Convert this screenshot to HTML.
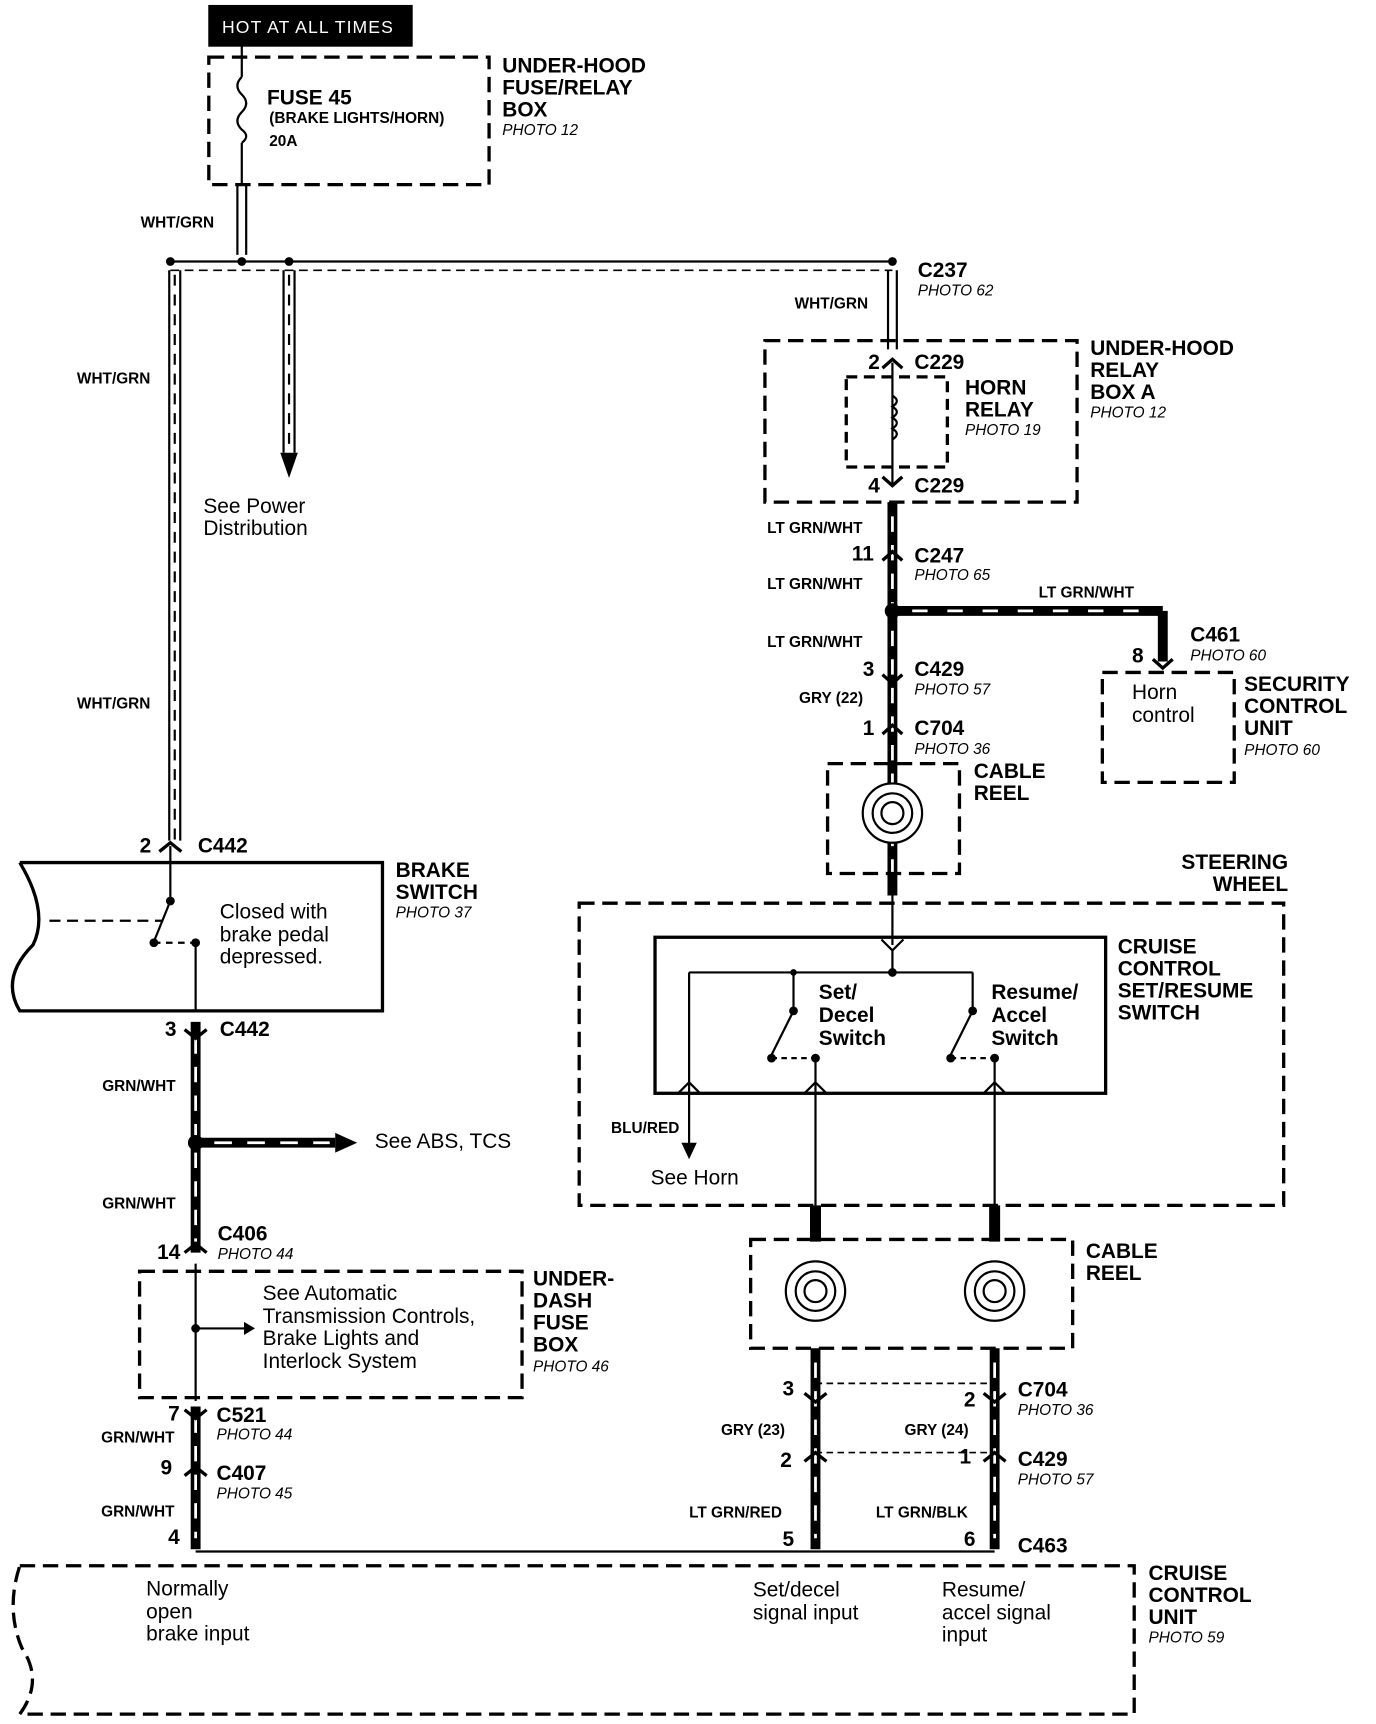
<!DOCTYPE html>
<html><head><meta charset="utf-8"><style>
html,body{margin:0;padding:0;background:#fff}
svg{display:block}
text{font-family:"Liberation Sans",Arial,sans-serif;fill:#000}
.b{font-weight:bold;font-size:19px}
.s{font-weight:bold;font-size:14px}
.i{font-style:italic;font-size:14px}
.n{font-size:19px}
</style></head><body>
<svg width="1376" height="1724" viewBox="0 0 1252 1569" preserveAspectRatio="none" xmlns="http://www.w3.org/2000/svg">
<g fill="none" stroke="#000">
<rect x="190" y="5" width="185" height="37" fill="#000"/>
<rect x="190" y="52" width="255" height="116" stroke-width="3" stroke-dasharray="14,7"/>
<line x1="220" y1="42" x2="220" y2="70" stroke-width="2"/>
<path d="M220 70 q-8 8 0 16 q8 8 0 16 q-8 8 0 16 q8 6 0 12" stroke-width="2"/>
<line x1="220" y1="130" x2="220" y2="168" stroke-width="2"/>
<line x1="216" y1="168" x2="216" y2="232" stroke-width="2"/>
<line x1="224" y1="168" x2="224" y2="232" stroke-width="2"/>
<line x1="155" y1="238" x2="812" y2="238" stroke-width="2"/>
<line x1="155" y1="246" x2="812" y2="246" stroke-width="1.5" stroke-dasharray="8,5"/>
<line x1="154" y1="246" x2="154" y2="765" stroke-width="2"/>
<line x1="164" y1="246" x2="164" y2="765" stroke-width="2"/>
<path d="M159 250 l0 515" stroke-width="2" stroke-dasharray="10,8"/>
<line x1="258" y1="246" x2="258" y2="412" stroke-width="2"/>
<line x1="268" y1="246" x2="268" y2="412" stroke-width="2"/>
<path d="M263 250 l0 160" stroke-width="2" stroke-dasharray="10,8"/>
<line x1="808" y1="246" x2="808" y2="318" stroke-width="2"/>
<line x1="816" y1="246" x2="816" y2="318" stroke-width="2"/>
<rect x="696" y="310" width="284" height="147" stroke-width="3" stroke-dasharray="14,7"/>
<rect x="770" y="343" width="92" height="82" stroke-width="3" stroke-dasharray="10,6"/>
<line x1="812" y1="330" x2="812" y2="440" stroke-width="2"/>
<path d="M812 360 q8 5 0 10 q8 5 0 10 q8 5 0 10 q8 5 0 10" stroke-width="2"/>
<line x1="812" y1="457" x2="812" y2="815" stroke-width="9"/>
<line x1="812" y1="556" x2="1058" y2="556" stroke-width="9"/>
<line x1="1058" y1="556" x2="1058" y2="602" stroke-width="9"/>
<g stroke="#fff" stroke-width="2.5"><line x1="812" y1="470" x2="812" y2="800" stroke-dasharray="14,12"/><line x1="830" y1="556" x2="1040" y2="556" stroke-dasharray="14,18"/></g>
<rect x="1003" y="612" width="120" height="100" stroke-width="3" stroke-dasharray="14,7"/>
<rect x="753" y="695" width="120" height="100" stroke-width="3" stroke-dasharray="14,7"/>
<circle cx="812" cy="740" r="27" fill="#fff" stroke-width="2"/><circle cx="812" cy="740" r="18" stroke-width="2"/><circle cx="812" cy="740" r="10" stroke-width="2"/>
<line x1="812" y1="815" x2="812" y2="860" stroke-width="2"/>
<rect x="527" y="822" width="641" height="275" stroke-width="3" stroke-dasharray="14,7"/>
<rect x="596" y="853" width="410" height="142" stroke-width="3"/>
<line x1="812" y1="865" x2="812" y2="885" stroke-width="2"/>
<line x1="627" y1="885" x2="885" y2="885" stroke-width="2"/>
<line x1="627" y1="885" x2="627" y2="1045" stroke-width="2"/>
<line x1="722" y1="885" x2="722" y2="920" stroke-width="2"/>
<line x1="722" y1="920" x2="702" y2="960" stroke-width="2"/>
<line x1="702" y1="963" x2="742" y2="963" stroke-width="2" stroke-dasharray="5,4"/>
<line x1="885" y1="885" x2="885" y2="920" stroke-width="2"/>
<line x1="885" y1="920" x2="865" y2="960" stroke-width="2"/>
<line x1="865" y1="963" x2="905" y2="963" stroke-width="2" stroke-dasharray="5,4"/>
<line x1="742" y1="963" x2="742" y2="1097" stroke-width="2"/>
<line x1="905" y1="963" x2="905" y2="1097" stroke-width="2"/>
<path d="M617 995 l10 -10 l10 10 M732 995 l10 -10 l10 10 M895 995 l10 -10 l10 10 M802 855 l10 10 l10 -10" stroke-width="2"/>
<line x1="742" y1="1097" x2="742" y2="1130" stroke-width="10"/>
<line x1="905" y1="1097" x2="905" y2="1130" stroke-width="10"/>
<rect x="683" y="1128" width="293" height="99" stroke-width="3" stroke-dasharray="14,7"/>
<g stroke-width="2"><circle cx="742" cy="1175" r="27"/><circle cx="742" cy="1175" r="18"/><circle cx="742" cy="1175" r="10"/><circle cx="905" cy="1175" r="27"/><circle cx="905" cy="1175" r="18"/><circle cx="905" cy="1175" r="10"/></g>
<line x1="742" y1="1227" x2="742" y2="1410" stroke-width="9"/>
<line x1="905" y1="1227" x2="905" y2="1410" stroke-width="9"/>
<g stroke="#fff" stroke-width="2.5"><line x1="742" y1="1240" x2="742" y2="1400" stroke-dasharray="14,12"/><line x1="905" y1="1240" x2="905" y2="1400" stroke-dasharray="14,12"/></g>
<line x1="742" y1="1259" x2="905" y2="1259" stroke-width="1.5" stroke-dasharray="6,4"/>
<line x1="742" y1="1322" x2="905" y2="1322" stroke-width="1.5" stroke-dasharray="6,4"/>
<path d="M18 785 L348 785 L348 920 L18 920 Q0 890 30 860 Q45 830 18 785" stroke-width="3"/>
<line x1="155" y1="770" x2="155" y2="820" stroke-width="2"/>
<line x1="155" y1="820" x2="140" y2="857" stroke-width="2"/>
<line x1="45" y1="838" x2="148" y2="838" stroke-width="2" stroke-dasharray="10,6"/>
<line x1="140" y1="858" x2="178" y2="858" stroke-width="2" stroke-dasharray="6,5"/>
<line x1="178" y1="858" x2="178" y2="920" stroke-width="2"/>
<line x1="178" y1="930" x2="178" y2="1140" stroke-width="9"/>
<line x1="178" y1="1040" x2="305" y2="1040" stroke-width="9"/>
<line x1="178" y1="1280" x2="178" y2="1410" stroke-width="9"/>
<g stroke="#fff" stroke-width="2.5"><line x1="178" y1="945" x2="178" y2="1130" stroke-dasharray="14,12"/><line x1="195" y1="1040" x2="300" y2="1040" stroke-dasharray="16,14"/><line x1="178" y1="1290" x2="178" y2="1400" stroke-dasharray="14,12"/></g>
<rect x="127" y="1157" width="348" height="115" stroke-width="3" stroke-dasharray="14,7"/>
<line x1="178" y1="1150" x2="178" y2="1275" stroke-width="2"/>
<line x1="178" y1="1209" x2="222" y2="1209" stroke-width="2"/>
<line x1="178" y1="1412" x2="905" y2="1412" stroke-width="2"/>
<path d="M18 1425 L1032 1425 L1032 1560 L18 1560 Q40 1530 20 1500 Q5 1465 18 1425" stroke-width="3" stroke-dasharray="14,7"/>
</g>
<g fill="#000">
<circle cx="812" cy="556" r="7"/><circle cx="178" cy="1040" r="7"/><circle cx="812" cy="885" r="4"/><circle cx="178" cy="1209" r="4"/>
<circle cx="155" cy="238" r="4"/><circle cx="220" cy="238" r="4"/><circle cx="263" cy="238" r="4"/><circle cx="812" cy="238" r="4"/>
<circle cx="155" cy="820" r="4"/><circle cx="140" cy="858" r="4"/><circle cx="178" cy="858" r="4"/>
<circle cx="722" cy="885" r="3"/><circle cx="702" cy="963" r="4"/><circle cx="742" cy="963" r="4"/><circle cx="885" cy="920" r="4"/><circle cx="865" cy="963" r="4"/><circle cx="905" cy="963" r="4"/><circle cx="722" cy="920" r="4"/>
<path d="M255 412 L271 412 L263 435 Z"/><path d="M305 1031 L325 1040 L305 1049 Z"/><path d="M222 1203 L232 1209 L222 1215 Z"/><path d="M620 1040 L634 1040 L627 1055 Z"/>
</g>
<g fill="none" stroke="#000" stroke-width="3">
<path d="M145 775 l10 -8 l10 8 M803 335 l9 -8 l9 8 M803 434 l9 8 l9 -8 M803 510 l9 -8 l9 8 M803 614 l9 8 l9 -8 M803 668 l9 -8 l9 8 M168 937 l10 8 l10 -8 M168 1140 l10 -8 l10 8 M168 1283 l10 8 l10 -8 M168 1343 l10 -8 l10 8 M732 1268 l10 8 l10 -8 M895 1268 l10 8 l10 -8 M732 1330 l10 -8 l10 8 M895 1330 l10 -8 l10 8 M1049 600 l9 8 l9 -8"/>
</g>
<text x="202" y="30" font-size="16" style="fill:#fff;letter-spacing:1px">HOT AT ALL TIMES</text>
<text x="243" y="95" class="b">FUSE 45</text>
<text x="245" y="112" class="s">(BRAKE LIGHTS/HORN)</text>
<text x="245" y="133" class="s">20A</text>
<text x="457" y="66" class="b">UNDER-HOOD</text><text x="457" y="86" class="b">FUSE/RELAY</text><text x="457" y="106" class="b">BOX</text><text x="457" y="123" class="i">PHOTO 12</text>
<text x="128" y="207" class="s">WHT/GRN</text>
<text x="70" y="349" class="s">WHT/GRN</text><text x="70" y="645" class="s">WHT/GRN</text>
<text x="185" y="467" class="n">See Power</text><text x="185" y="487" class="n">Distribution</text>
<text x="835" y="252" class="b">C237</text><text x="835" y="269" class="i">PHOTO 62</text>
<text x="723" y="281" class="s">WHT/GRN</text>
<text x="790" y="336" class="b">2</text><text x="832" y="336" class="b">C229</text>
<text x="790" y="448" class="b">4</text><text x="832" y="448" class="b">C229</text>
<text x="878" y="359" class="b">HORN</text><text x="878" y="379" class="b">RELAY</text><text x="878" y="396" class="i">PHOTO 19</text>
<text x="992" y="323" class="b">UNDER-HOOD</text><text x="992" y="343" class="b">RELAY</text><text x="992" y="363" class="b">BOX A</text><text x="992" y="380" class="i">PHOTO 12</text>
<text x="698" y="485" class="s">LT GRN/WHT</text>
<text x="775" y="510" class="b">11</text><text x="832" y="512" class="b">C247</text><text x="832" y="528" class="i">PHOTO 65</text>
<text x="698" y="536" class="s">LT GRN/WHT</text>
<text x="945" y="544" class="s">LT GRN/WHT</text>
<text x="1083" y="584" class="b">C461</text><text x="1083" y="601" class="i">PHOTO 60</text><text x="1030" y="603" class="b">8</text>
<text x="1030" y="636" class="n">Horn</text><text x="1030" y="657" class="n">control</text>
<text x="1132" y="629" class="b">SECURITY</text><text x="1132" y="649" class="b">CONTROL</text><text x="1132" y="669" class="b">UNIT</text><text x="1132" y="687" class="i">PHOTO 60</text>
<text x="698" y="589" class="s">LT GRN/WHT</text>
<text x="785" y="615" class="b">3</text><text x="832" y="615" class="b">C429</text><text x="832" y="632" class="i">PHOTO 57</text>
<text x="727" y="640" class="s">GRY (22)</text>
<text x="785" y="669" class="b">1</text><text x="832" y="669" class="b">C704</text><text x="832" y="686" class="i">PHOTO 36</text>
<text x="886" y="708" class="b">CABLE</text><text x="886" y="728" class="b">REEL</text>
<text x="1172" y="791" class="b" text-anchor="end">STEERING</text><text x="1172" y="811" class="b" text-anchor="end">WHEEL</text>
<text x="745" y="909" class="b">Set/</text><text x="745" y="930" class="b">Decel</text><text x="745" y="951" class="b">Switch</text>
<text x="902" y="909" class="b">Resume/</text><text x="902" y="930" class="b">Accel</text><text x="902" y="951" class="b">Switch</text>
<text x="1017" y="868" class="b">CRUISE</text><text x="1017" y="888" class="b">CONTROL</text><text x="1017" y="908" class="b">SET/RESUME</text><text x="1017" y="928" class="b">SWITCH</text>
<text x="556" y="1031" class="s">BLU/RED</text>
<text x="592" y="1078" class="n">See Horn</text>
<text x="988" y="1145" class="b">CABLE</text><text x="988" y="1165" class="b">REEL</text>
<text x="712" y="1270" class="b">3</text><text x="877" y="1280" class="b">2</text>
<text x="926" y="1271" class="b">C704</text><text x="926" y="1288" class="i">PHOTO 36</text>
<text x="656" y="1306" class="s">GRY (23)</text><text x="823" y="1306" class="s">GRY (24)</text>
<text x="710" y="1335" class="b">2</text><text x="873" y="1332" class="b">1</text>
<text x="926" y="1334" class="b">C429</text><text x="926" y="1351" class="i">PHOTO 57</text>
<text x="627" y="1381" class="s">LT GRN/RED</text><text x="797" y="1381" class="s">LT GRN/BLK</text>
<text x="712" y="1407" class="b">5</text><text x="877" y="1407" class="b">6</text><text x="926" y="1413" class="b">C463</text>
<text x="127" y="776" class="b">2</text><text x="180" y="776" class="b">C442</text>
<text x="360" y="798" class="b">BRAKE</text><text x="360" y="818" class="b">SWITCH</text><text x="360" y="835" class="i">PHOTO 37</text>
<text x="200" y="836" class="n">Closed with</text><text x="200" y="857" class="n">brake pedal</text><text x="200" y="877" class="n">depressed.</text>
<text x="150" y="943" class="b">3</text><text x="200" y="943" class="b">C442</text>
<text x="93" y="993" class="s">GRN/WHT</text>
<text x="341" y="1045" class="n">See ABS, TCS</text>
<text x="93" y="1100" class="s">GRN/WHT</text>
<text x="198" y="1129" class="b">C406</text><text x="198" y="1146" class="i">PHOTO 44</text><text x="143" y="1146" class="b">14</text>
<text x="239" y="1183" class="n">See Automatic</text><text x="239" y="1204" class="n">Transmission Controls,</text><text x="239" y="1224" class="n">Brake Lights and</text><text x="239" y="1245" class="n">Interlock System</text>
<text x="485" y="1170" class="b">UNDER-</text><text x="485" y="1190" class="b">DASH</text><text x="485" y="1210" class="b">FUSE</text><text x="485" y="1230" class="b">BOX</text><text x="485" y="1248" class="i">PHOTO 46</text>
<text x="153" y="1293" class="b">7</text><text x="197" y="1294" class="b">C521</text><text x="197" y="1310" class="i">PHOTO 44</text>
<text x="92" y="1313" class="s">GRN/WHT</text>
<text x="146" y="1342" class="b">9</text><text x="197" y="1347" class="b">C407</text><text x="197" y="1364" class="i">PHOTO 45</text>
<text x="92" y="1380" class="s">GRN/WHT</text>
<text x="153" y="1405" class="b">4</text>
<text x="133" y="1452" class="n">Normally</text><text x="133" y="1473" class="n">open</text><text x="133" y="1493" class="n">brake input</text>
<text x="685" y="1453" class="n">Set/decel</text><text x="685" y="1474" class="n">signal input</text>
<text x="857" y="1453" class="n">Resume/</text><text x="857" y="1474" class="n">accel signal</text><text x="857" y="1494" class="n">input</text>
<text x="1045" y="1438" class="b">CRUISE</text><text x="1045" y="1458" class="b">CONTROL</text><text x="1045" y="1478" class="b">UNIT</text><text x="1045" y="1495" class="i">PHOTO 59</text>
</svg>
</body></html>
